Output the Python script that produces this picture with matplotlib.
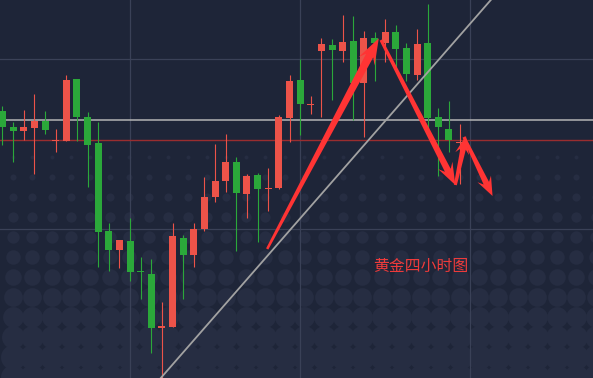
import numpy as np
import matplotlib
matplotlib.use("Agg")
import matplotlib.pyplot as plt
from matplotlib.patches import Rectangle, Polygon
from matplotlib.transforms import IdentityTransform

# ---- data (nominal price units) ----
opens  = [289, 273.3, 269, 272, 279.3, 259, 259.3, 321, 283, 257, 169, 150, 159, 128.6, 126, 72.7,
          73.3, 162, 145, 171, 203.3, 219.3, 238, 206.3, 225, 211.4, 212.3, 282.3, 320, 295.5,
          349.3, 355, 349, 359, 316.7, 362, 357.3, 368, 352, 325, 357, 283.3, 271, 257]
highs  = [294, 278.3, 290, 306, 289, 271, 325, 321, 288, 278, 177, 160, 182, 143.3, 141, 98,
          177, 165, 177, 223, 256, 266, 243, 226.3, 227, 232, 285, 325, 341, 304,
          362, 361, 385, 384, 369, 368, 381, 375, 357, 371, 396, 292, 299, 276]
lows   = [255, 238.3, 260, 226.3, 266.3, 248.3, 259.3, 259.3, 213.3, 133.3, 129.3, 132.3, 119.3, 101.3, 47.3, 18,
          73.3, 101.3, 133.3, 169.3, 198.3, 208.3, 149.3, 182.3, 158.3, 189.3, 211.3, 258.3, 265, 286,
          283.3, 300, 338.3, 280, 263.3, 319, 338.3, 333.3, 319, 320, 272, 224.3, 248.3, 216]
closes = [273, 269.3, 273.3, 279.3, 270, 259.6, 320, 283.3, 255, 168.3, 150, 160, 128.3, 128.3, 72.3, 73,
          164, 145, 171, 203, 219, 238, 207.3, 224, 211.3, 211.7, 283.3, 319, 296, 295.7,
          356, 350, 358, 317, 362, 357.3, 368, 351, 326, 356, 282.3, 273.3, 260, 258.3]

support_level = 259.7     # red horizontal line
resist_level = 279.7      # grey horizontal line
trend_pts = [(15, 23.3), (46, 400.8)]
arrow_paths = [((24.9, 151), (35.4, 361.7)),
               ((35.6, 360), (42.6, 215)),
               ((42.6, 215), (43.6, 264)),
               ((43.4, 263), (46.1, 204))]
label_text = "黄金四小时图"
label_pos = (34.85, 133.3)

BG = "#1e2538"
RED = "#ec5349"
GREEN = "#2ba83a"

W, H = 593, 378
fig = plt.figure(figsize=(W / 100, H / 100), dpi=100, facecolor=BG)
ax = fig.add_axes([0, 0, 1, 1])
ax.set_facecolor(BG)
ax.set_xlim(-0.235, 55.55)
ax.set_ylim(22, 400)
for s in ax.spines.values():
    s.set_visible(False)
ax.set_xticks([12, 28, 44])
ax.set_yticks([170.7, 341])
ax.tick_params(length=0, labelbottom=False, labelleft=False)
ax.grid(True, color="#3a4157", lw=0.9, zorder=0)
ax.set_axisbelow(True)

# halftone background pattern (decoration)
rows = np.arange(157, 400, 20)
cols = np.arange(12.7, 600, 19.43)
for k, yy in enumerate(rows):
    r = min(2.0 + k * 1.05, 12.5)
    d_pt = 2 * r * 72 / 100
    ax.scatter(cols / W, np.full(cols.shape, 1 - yy / H), s=d_pt ** 2,
               color="#262d42", linewidths=0, transform=ax.transAxes, zorder=0.5)

# horizontal levels
ax.axhline(resist_level, color="#b4b4b4", lw=1.1, zorder=1)
ax.axhline(support_level, color="#9a2d2f", lw=1.0, zorder=1)

# candles
bw = 0.66
for i, (o, h, l, c) in enumerate(zip(opens, highs, lows, closes)):
    col = RED if c >= o else GREEN
    ax.vlines(i, l, h, color=col, lw=0.8, zorder=3)
    lo, hi = min(o, c), max(o, c)
    if hi - lo < 1.5:
        m = (hi + lo) / 2
        lo, hi = m - 0.75, m + 0.75
    ax.add_patch(Rectangle((i - bw / 2, lo), bw, hi - lo, facecolor=col,
                           edgecolor="none", zorder=4))

# trend line
ax.axline(trend_pts[0], trend_pts[1], color="#a2a2a2", lw=1.3, zorder=5)

# arrows (drawn in display space so they are not distorted)
def arrow_poly(p0, p1, w0, w1, hw, hl):
    p0 = np.asarray(p0, float); p1 = np.asarray(p1, float)
    d = p1 - p0
    u = d / np.hypot(*d)
    n = np.array([-u[1], u[0]])
    neck = p1 - u * hl * 0.75
    barb = p1 - u * hl
    return [p0 + n * w0 / 2, neck + n * w1 / 2, barb + n * hw / 2, p1,
            barb - n * hw / 2, neck - n * w1 / 2, p0 - n * w0 / 2]

styles = [(2.5, 8, 18, 26), (3, 6.5, 16, 22), (3, 5.5, 14, 18), (3, 6, 15, 19)]
for (a, b), (w0, w1, hw, hl) in zip(arrow_paths, styles):
    pa = ax.transData.transform(a)
    pb = ax.transData.transform(b)
    ax.add_patch(Polygon(arrow_poly(pa, pb, w0, w1, hw, hl), closed=True,
                         facecolor="#ff3434", edgecolor="none",
                         transform=IdentityTransform(), zorder=6))

ax.text(label_pos[0], label_pos[1], label_text, color="#ee3b3b", fontsize=11.4,
        family=["Noto Sans CJK SC", "DejaVu Sans"], ha="left", va="center", zorder=7)

fig.savefig("out.png", dpi=100, facecolor=BG)
